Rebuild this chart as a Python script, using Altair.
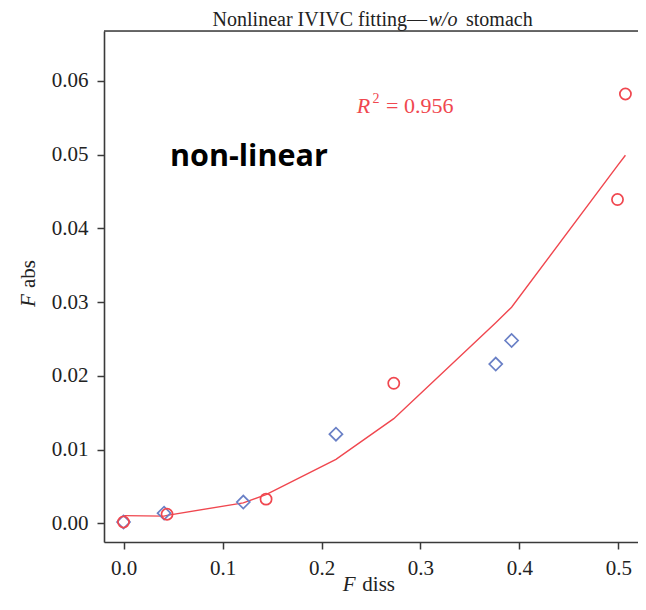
import altair as alt
import pandas as pd

# ---- data ----
circle_x = [0.0, 0.044, 0.144, 0.273, 0.499, 0.507]
circle_y = [0.0002, 0.00125, 0.0033, 0.0190, 0.0439, 0.0582]

diamond_x = [0.0, 0.041, 0.121, 0.2146, 0.376, 0.392]
diamond_y = [0.0002, 0.0014, 0.0029, 0.0121, 0.0216, 0.0248]

fit_x = [0.0, 0.041, 0.044, 0.121, 0.144, 0.2146, 0.273, 0.376, 0.392, 0.499, 0.507]
fit_y = [0.00106, 0.00100, 0.00110, 0.0028, 0.0039, 0.0087, 0.0142, 0.0272, 0.0293, 0.0485, 0.0499]

x_ticks = [0.0, 0.1, 0.2, 0.3, 0.4, 0.5]
y_ticks = [0.00, 0.01, 0.02, 0.03, 0.04, 0.05, 0.06]

title_parts = ["Nonlinear IVIVC fitting\u2014", "w/o", "stomach"]
r2_parts = ["R", "2", "= 0.956"]
xtitle_parts = ["F", "diss"]
ytitle_parts = ["F", "abs"]
note_text = ["non-linear"]

RED = "#f0474f"
BLUE = "#6a80c6"
AXIS = "#3a3a3a"
SERIF = "Liberation Serif"

W, H = 534, 511

circles = pd.DataFrame({"x": circle_x, "y": circle_y})
diamonds = pd.DataFrame({"x": diamond_x, "y": diamond_y})
fit = pd.DataFrame({"x": fit_x, "y": fit_y})

xs = alt.Scale(domain=[-0.0197, 0.5197], nice=False, zero=False)
ys = alt.Scale(domain=[-0.00251, 0.06674], nice=False, zero=False)

xaxis = alt.Axis(values=x_ticks, format=".1f", title=None, grid=False,
                 domainColor=AXIS, domainWidth=1.6, tickColor=AXIS, tickWidth=1.5,
                 tickSize=7, labelFont=SERIF, labelFontSize=21, labelColor="#222",
                 labelPadding=8)
yaxis = alt.Axis(values=y_ticks, format=".2f", title=None, grid=False,
                 domainColor=AXIS, domainWidth=1.6, tickColor=AXIS, tickWidth=1.5,
                 tickSize=7, labelFont=SERIF, labelFontSize=21, labelColor="#222",
                 labelPadding=9)

line = alt.Chart(fit).mark_line(color=RED, strokeWidth=1.4).encode(
    x=alt.X("x:Q", scale=xs, axis=xaxis),
    y=alt.Y("y:Q", scale=ys, axis=yaxis),
)
dia = alt.Chart(diamonds).mark_point(shape="diamond", filled=False, color=BLUE,
                                     size=170, strokeWidth=1.7, opacity=1).encode(
    x=alt.X("x:Q", scale=xs), y=alt.Y("y:Q", scale=ys))
cir = alt.Chart(circles).mark_point(shape="circle", filled=False, color=RED,
                                    size=125, strokeWidth=1.7, opacity=1).encode(
    x=alt.X("x:Q", scale=xs), y=alt.Y("y:Q", scale=ys))

top_border = alt.Chart(pd.DataFrame({"a": [0]})).mark_rule(
    color=AXIS, strokeWidth=1.6).encode(
    x=alt.value(0), x2=alt.value(W), y=alt.value(0))


def txt(s, x, y, size=21, color="#222", font=SERIF, style="normal",
        weight="normal", align="left", angle=0):
    return alt.Chart(pd.DataFrame({"t": [s]})).mark_text(
        font=font, fontSize=size, color=color, fontStyle=style,
        fontWeight=weight, align=align, baseline="alphabetic", angle=angle
    ).encode(text="t:N", x=alt.value(x), y=alt.value(y))


texts = [
    txt(title_parts[0], 323, -5, size=20, align="right"),
    txt(title_parts[1], 324.5, -5, size=20, style="italic"),
    txt(title_parts[2], 362, -5, size=20),
    txt(r2_parts[0], 252.7, 82.3, size=22, color=RED, style="italic"),
    txt(r2_parts[1], 268.5, 71.7, size=14, color=RED),
    txt(r2_parts[2], 282, 82.3, size=22, color=RED),
    txt(xtitle_parts[0], 238.8, 560, size=21, style="italic"),
    txt(xtitle_parts[1], 291, 560, size=21, align="right"),
    txt(ytitle_parts[0], -69, 276, size=21, style="italic", angle=270),
    txt(ytitle_parts[1], -69, 229, size=21, align="right", angle=270),
    txt(note_text[0], 66, 134.7, size=30.5, color="#000", font="Open Sans",
        weight="bold"),
]

chart = alt.layer(top_border, line, dia, cir, *texts).properties(
    width=W, height=H,
    autosize=alt.AutoSizeParams(type="none"),
    padding={"left": 96, "top": 23, "right": 0, "bottom": 56},
).configure_view(stroke=None).configure(background="white")

chart.save("out.html", embed_options={"renderer": "svg", "actions": False})
